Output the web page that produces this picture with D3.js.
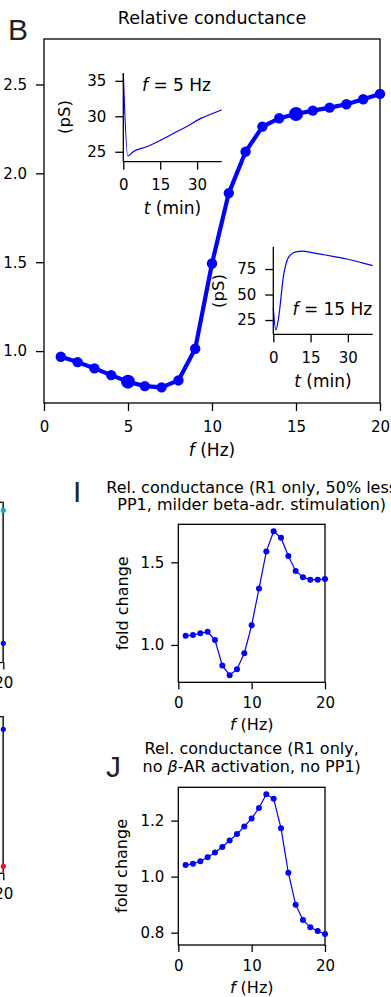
<!DOCTYPE html>
<html><head><meta charset="utf-8">
<script src="https://cdn.jsdelivr.net/npm/d3@7"></script>
<style>
body{margin:0;background:#fff}
svg{display:block}
text{font-family:"DejaVu Sans",sans-serif;fill:#000}
</style>
</head><body>
<svg id="c" width="391" height="997"></svg>
<script>
// ---------------- data ----------------
const freqHz = [1,2,3,4,5,6,7,8,9,10,11,12,13,14,15,16,17,18,19,20];
const relCondB = [0.968,0.938,0.903,0.865,0.828,0.803,0.796,0.835,1.013,1.493,1.889,2.122,2.263,2.310,2.334,2.353,2.370,2.389,2.417,2.447];
const bigMarkerHz = [5,15];
const inset5T = [0,1.8,4,9.5,15,20.5,26,31.5,36,40];
const inset5G = [36.0,24.4,25.0,25.7,26.6,27.6,28.6,29.7,30.35,30.9];
const inset15T = [0,1,2,2.7,3.4,4.05,5.15,6.8,9.5,12,15,20,25,30,35,40];
const inset15G = [36.5,15.2,25,38,54.4,67.5,80.5,88.7,92,92.5,91.3,89.2,87,84.6,81.6,78.4];
const relCondI = [1.056,1.060,1.071,1.080,1.030,0.875,0.817,0.853,0.950,1.119,1.341,1.565,1.688,1.649,1.538,1.448,1.410,1.395,1.395,1.399];
const relCondJ = [1.042,1.046,1.055,1.069,1.086,1.106,1.129,1.152,1.179,1.208,1.245,1.294,1.278,1.173,1.014,0.900,0.845,0.819,0.806,0.795];
const ticksBX = [0,5,10,15,20];
const ticksBY = [1.0,1.5,2.0,2.5];
const ticksInsetT = [0,15,30];
const ticks5Y = [25,30,35];
const ticks15Y = [25,50,75];
const ticksIJX = [0,10,20];
const ticksIY = [1.0,1.5];
const ticksJY = [0.8,1.0,1.2];
// clipped neighbouring panels (only their right edge is visible)
const fragHz = [20];
const frag1Cyan = [0.95], frag1Blue = [0.12];
const frag2Blue = [0.92], frag2Red = [0.045];
const fragTicks = [20];

const BLUE = "#0000ff";
const svg = d3.select("#c");
svg.append("rect").attr("width",391).attr("height",997).attr("fill","#fff");

function styleAxis(g, fs){
  g.select(".domain").remove();
  g.attr("font-family","DejaVu Sans").attr("font-size",fs);
  g.selectAll(".tick line").attr("stroke","#000").attr("stroke-width",1.3);
  g.selectAll(".tick text").attr("fill","#000");
}
function axisX(x, y0, ticks, fmt, size, pad, fs){
  const g = svg.append("g").attr("transform",`translate(0,${y0})`)
    .call(d3.axisBottom(x).tickValues(ticks).tickFormat(fmt).tickSize(size).tickPadding(pad).tickSizeOuter(0));
  styleAxis(g, fs); return g;
}
function axisY(y, x0, ticks, fmt, size, pad, fs){
  const g = svg.append("g").attr("transform",`translate(${x0},0)`)
    .call(d3.axisLeft(y).tickValues(ticks).tickFormat(fmt).tickSize(size).tickPadding(pad).tickSizeOuter(0));
  styleAxis(g, fs); return g;
}
function box(x, y){
  const [x0,x1] = x.range(), [y0,y1] = y.range();
  svg.append("rect").attr("x",Math.min(x0,x1)).attr("y",Math.min(y0,y1))
    .attr("width",Math.abs(x1-x0)).attr("height",Math.abs(y1-y0))
    .attr("fill","none").attr("stroke","#000").attr("stroke-width",1.3);
}
function italicLabel(x, y, it, rest, fs, anchor="middle"){
  const t = svg.append("text").attr("x",x).attr("y",y).attr("font-size",fs).attr("text-anchor",anchor);
  t.append("tspan").attr("font-style","italic").text(it);
  t.append("tspan").text(rest);
  return t;
}
function rotLabel(cx, cy, txt, fs){
  svg.append("text").attr("transform",`translate(${cx},${cy}) rotate(-90)`)
    .attr("text-anchor","middle").attr("dy","0.3em").attr("font-size",fs).text(txt);
}
function panelLetter(x, y, s){
  svg.append("text").attr("x",x).attr("y",y).attr("font-size",30)
    .attr("font-family","Liberation Sans, Arial, sans-serif").style("font-family","Liberation Sans, Arial, sans-serif")
    .attr("fill","#222").style("fill","#222").text(s);
}

// ---------------- panel B ----------------
const xB = d3.scaleLinear().domain([0,20]).range([44,380]);
const yB = d3.scaleLinear().domain([0.708,2.756]).range([403,39]);
box(xB, yB);
axisX(xB, 403, ticksBX, d3.format("d"), 8, 10, 15);
axisY(yB, 44, ticksBY, d3.format(".1f"), 8, 9, 15);
svg.append("path").datum(freqHz.map((f,i)=>[f,relCondB[i]]))
  .attr("d", d3.line().x(d=>xB(d[0])).y(d=>yB(d[1])))
  .attr("fill","none").attr("stroke",BLUE).attr("stroke-width",4.2).attr("stroke-linejoin","round");
svg.selectAll(".mB").data(freqHz).enter().append("circle")
  .attr("cx",f=>xB(f)).attr("cy",(f,i)=>yB(relCondB[i]))
  .attr("r",f=>bigMarkerHz.includes(f)?7:5.2).attr("fill",BLUE);
svg.append("text").attr("x",212).attr("y",24).attr("text-anchor","middle").attr("font-size",17.5).text("Relative conductance");
italicLabel(212, 456, "f", " (Hz)", 17);
panelLetter(8, 40, "B");

// inset 5 Hz
const x5 = d3.scaleLinear().domain([0,40]).range([123.3,221.7]);
const y5 = d3.scaleLinear().domain([23.6,36.1]).range([161.7,73]);
svg.append("path").datum(inset5T.map((t,i)=>[t,inset5G[i]]))
  .attr("d", d3.line().x(d=>x5(d[0])).y(d=>y5(d[1])).curve(d3.curveMonotoneX))
  .attr("fill","none").attr("stroke",BLUE).attr("stroke-width",1.2);
svg.append("line").attr("x1",123.3).attr("x2",123.3).attr("y1",73).attr("y2",161.7).attr("stroke","#000").attr("stroke-width",1.3);
svg.append("line").attr("x1",123.3).attr("x2",221.7).attr("y1",161.7).attr("y2",161.7).attr("stroke","#000").attr("stroke-width",1.3);
axisX(x5, 161.7, ticksInsetT, d3.format("d"), 8, 10, 15);
axisY(y5, 123.3, ticks5Y, d3.format("d"), 8, 9, 15);
rotLabel(65, 117, "(pS)", 16.5);
italicLabel(172.5, 214, "t", " (min)", 17);
italicLabel(142, 90.7, "f", " = 5 Hz", 17, "start");

// inset 15 Hz
const x15 = d3.scaleLinear().domain([0,40]).range([273.3,372.7]);
const y15 = d3.scaleLinear().domain([11,96.9]).range([334.3,246.7]);
svg.append("path").datum(inset15T.map((t,i)=>[t,inset15G[i]]))
  .attr("d", d3.line().x(d=>x15(d[0])).y(d=>y15(d[1])).curve(d3.curveMonotoneX))
  .attr("fill","none").attr("stroke",BLUE).attr("stroke-width",1.2);
svg.append("line").attr("x1",273.3).attr("x2",273.3).attr("y1",246.7).attr("y2",334.3).attr("stroke","#000").attr("stroke-width",1.3);
svg.append("line").attr("x1",273.3).attr("x2",372.7).attr("y1",334.3).attr("y2",334.3).attr("stroke","#000").attr("stroke-width",1.3);
axisX(x15, 334.3, ticksInsetT, d3.format("d"), 8, 10, 15);
axisY(y15, 273.3, ticks15Y, d3.format("d"), 8, 9, 15);
rotLabel(219, 291, "(pS)", 16.5);
italicLabel(323, 387, "t", " (min)", 17);
italicLabel(292.5, 315, "f", " = 15 Hz", 17, "start");

// ---------------- panel I ----------------
const xI = d3.scaleLinear().domain([0,20]).range([178.3,325]);
const yI = d3.scaleLinear().domain([0.774,1.730]).range([682.3,524.3]);
box(xI, yI);
axisX(xI, 682.3, ticksIJX, d3.format("d"), 7, 8, 15);
axisY(yI, 178.3, ticksIY, d3.format(".1f"), 7, 7, 15);
svg.append("path").datum(freqHz.map((f,i)=>[f,relCondI[i]]))
  .attr("d", d3.line().x(d=>xI(d[0])).y(d=>yI(d[1])))
  .attr("fill","none").attr("stroke",BLUE).attr("stroke-width",1.2);
svg.selectAll(".mI").data(freqHz).enter().append("circle")
  .attr("cx",f=>xI(f)).attr("cy",(f,i)=>yI(relCondI[i])).attr("r",3).attr("fill",BLUE);
svg.append("text").attr("x",251.7).attr("y",492.7).attr("text-anchor","middle").attr("font-size",16).text("Rel. conductance (R1 only, 50% less");
svg.append("text").attr("x",251.7).attr("y",509.5).attr("text-anchor","middle").attr("font-size",16).text("PP1, milder beta-adr. stimulation)");
rotLabel(123.3, 603.3, "fold change", 16);
italicLabel(251.7, 730, "f", " (Hz)", 16);
panelLetter(73, 502, "I");

// ---------------- panel J ----------------
const xJ = d3.scaleLinear().domain([0,20]).range([178.3,325]);
const yJ = d3.scaleLinear().domain([0.756,1.319]).range([945,787.3]);
box(xJ, yJ);
axisX(xJ, 945, ticksIJX, d3.format("d"), 7, 8, 15);
axisY(yJ, 178.3, ticksJY, d3.format(".1f"), 7, 7, 15);
svg.append("path").datum(freqHz.map((f,i)=>[f,relCondJ[i]]))
  .attr("d", d3.line().x(d=>xJ(d[0])).y(d=>yJ(d[1])))
  .attr("fill","none").attr("stroke",BLUE).attr("stroke-width",1.2);
svg.selectAll(".mJ").data(freqHz).enter().append("circle")
  .attr("cx",f=>xJ(f)).attr("cy",(f,i)=>yJ(relCondJ[i])).attr("r",3).attr("fill",BLUE);
svg.append("text").attr("x",251.7).attr("y",754).attr("text-anchor","middle").attr("font-size",16).text("Rel. conductance (R1 only,");
{
  const t = svg.append("text").attr("x",251.7).attr("y",771.5).attr("text-anchor","middle").attr("font-size",16);
  t.append("tspan").text("no ");
  t.append("tspan").attr("font-style","italic").text("β");
  t.append("tspan").text("-AR activation, no PP1)");
}
rotLabel(122.5, 866, "fold change", 16);
italicLabel(251.7, 993, "f", " (Hz)", 16);
panelLetter(106, 776.5, "J");

// ---------------- clipped left panels ----------------
function fragment(top, bottom, series){
  const x = d3.scaleLinear().domain([0,20]).range([-160,3.3]);
  const y = d3.scaleLinear().domain([0,1]).range([bottom,top]);
  svg.append("rect").attr("x",-160).attr("y",top).attr("width",163.3).attr("height",bottom-top)
    .attr("fill","none").attr("stroke","#000").attr("stroke-width",1.3);
  svg.append("line").attr("x1",2.6).attr("x2",2.6).attr("y1",top).attr("y2",bottom).attr("stroke","#777").attr("stroke-width",1.4);
  axisX(x, bottom, fragTicks, d3.format("d"), 7, 8, 15);
  series.forEach(s=>{
    svg.selectAll(null).data(fragHz).enter().append("circle")
      .attr("cx",f=>x(f)).attr("cy",(f,i)=>y(s.v[i])).attr("r",2.6).attr("fill",s.c);
  });
}
fragment(502.3, 662.5, [{v:frag1Cyan,c:"#17a9b8"},{v:frag1Blue,c:BLUE}]);
fragment(716.7, 873.3, [{v:frag2Blue,c:BLUE},{v:frag2Red,c:"#e31a1c"}]);
</script>
</body></html>
